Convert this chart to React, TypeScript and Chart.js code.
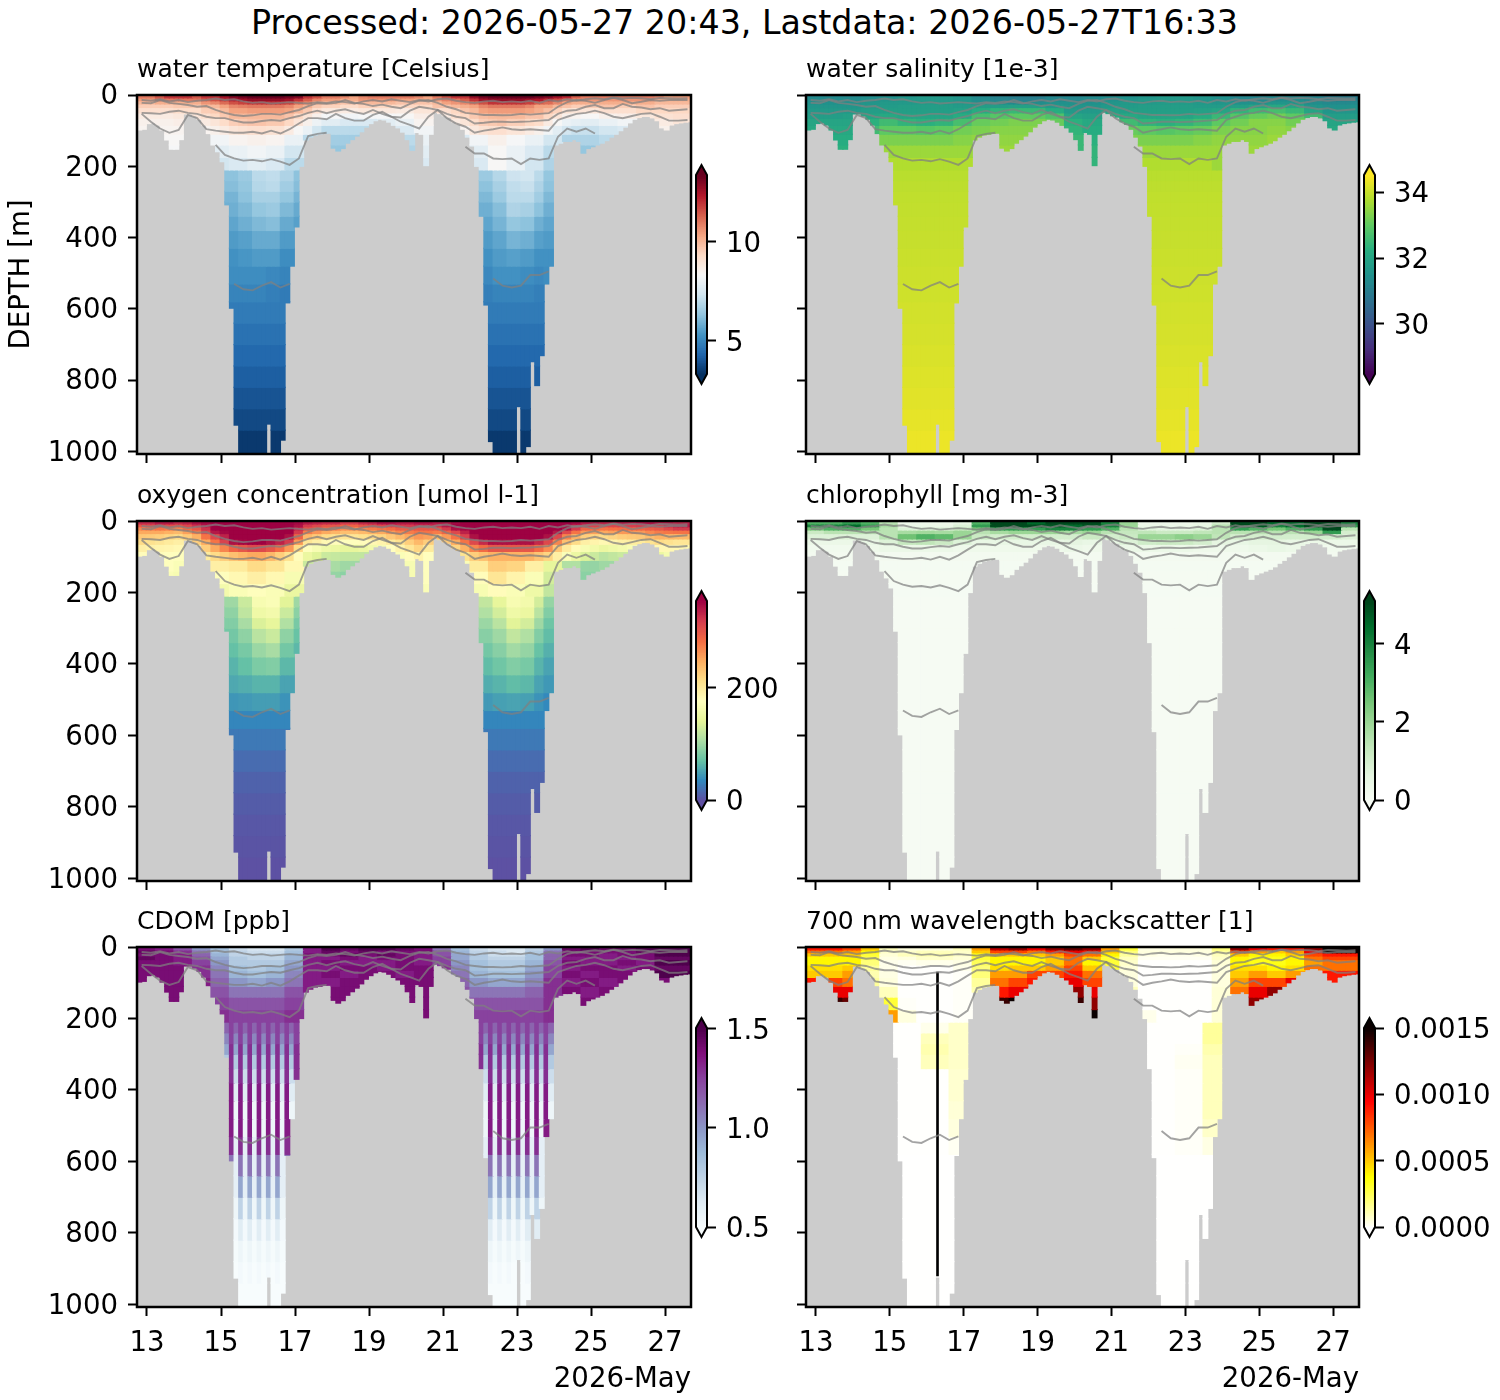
import React, { useEffect, useRef } from "react";
import { Chart, registerables } from "chart.js";

Chart.register(...registerables);

const FONT = '"DejaVu Sans"';
const SUPTITLE = "Processed: 2026-05-27 20:43, Lastdata: 2026-05-27T16:33";

const xTickDays = [13, 15, 17, 19, 21, 23, 25, 27];
const yTickDepths = [0, 200, 400, 600, 800, 1000];
const DAY_MIN = 12.73;
const DAY_MAX = 27.7;
const DEPTH_MAX = 1007;
const COL_STEP = 0.125;

// deepest sample of each 3-hour column, in metres
const bottomDepth = [
  98, 96, 80, 78, 84, 98, 126, 152, 152, 125, 53, 53, 59, 68, 84, 108, 140, 159, 187, 308,
  598, 926, 1007, 1007, 1007, 1007, 1007, 1007, 923, 1007, 1007, 968, 583, 480, 370, 200, 126, 118, 112, 110,
  107, 107, 149, 157, 150, 135, 125, 115, 103, 90, 80, 72, 68, 70, 76, 85, 92, 104, 125, 155,
  105, 110, 198, 110, 48, 52, 58, 62, 75, 82, 96, 118, 143, 200, 340, 589, 972, 1007, 1007, 1007,
  1007, 1007, 874, 1007, 986, 748, 815, 731, 530, 480, 140, 135, 130, 130, 125, 130, 163, 150, 145, 140,
  135, 128, 118, 110, 100, 90, 78, 68, 63, 60, 60, 64, 72, 92, 98, 84, 80, 78, 76, 75,
];

// grey density contours, one value every 6 hours
const contourA = [
  14, 16, 12, 18, 14, 20, 16, 14, 10, 14, 12, 18, 22, 20, 24, 22, 20, 22, 24, 20, 22, 18, 20, 24, 18, 14, 18, 12, 16, 20,
  14, 18, 12, 10, 16, 20, 22, 18, 16, 20, 18, 20, 16, 22, 14, 18, 12, 16, 12, 9, 12, 7, 10, 8, 9, 12, 8, 9, 10, 9,
];
const contourB = [
  22, 23, 14, 22, 25, 28, 33, 31, 42, 50, 56, 59, 57, 53, 53, 55, 48, 42, 31, 23, 25, 22, 14, 22, 25, 31, 27, 33, 37, 25,
  16, 14, 22, 33, 40, 50, 53, 56, 56, 57, 56, 53, 55, 53, 51, 33, 20, 14, 16, 22, 14, 8, 14, 23, 19, 14, 16, 14, 14, 14,
];
const contourC = [
  50, 51, 53, 47, 44, 50, 53, 61, 65, 65, 72, 77, 77, 73, 70, 72, 65, 59, 50, 44, 51, 44, 40, 48, 53, 42, 53, 61, 63, 44,
  33, 37, 42, 53, 61, 65, 80, 78, 75, 75, 76, 75, 74, 72, 70, 53, 44, 42, 33, 28, 37, 37, 25, 33, 35, 40, 37, 44, 42, 40,
];
const contourD = [
  53, 75, 94, 106, 98, 56, 65, 96, 100, 103, 106, 106, 103, 108, 100, 108, 96, 80, 65, 65, 68, 53, 65, 72, 72, 56, 47, 61, 75, 84,
  94, 61, 42, 65, 80, 89, 106, 100, 96, 91, 96, 98, 96, 98, 100, 70, 61, 53, 50, 44, 51, 61, 65, 59, 53, 51, 61, 72, 72, 70,
];
const contourE = [
  null, null, null, null, null, null, null, null, 140, 168, 178, 184, 182, 186, 180, 187, 196, 178, 115, 109, 106, null, null, null, null, null, null, null, null, null,
  null, null, null, null, null, 145, 164, 164, 178, 180, 178, 194, 178, 182, 178, 117, 94, 103, 94, 108, null, null, null, null, null, null, null, null, null, null,
];
const contourF = [
  null, null, null, null, null, null, null, null, null, null, 530, 545, 548, 535, 525, 540, 530, null, null, null, null, null, null, null, null, null, null, null, null, null,
  null, null, null, null, null, null, null, null, 515, 535, 540, 535, 505, 505, 495, null, null, null, null, null, null, null, null, null, null, null, null, null, null, null,
];

// upper layers: one row per depth band, one value every 6 or 12 hours
const upperEdges = [0, 8, 16, 25, 35, 50, 65, 85, 110, 140, 175, 210];
// below 210 m: slices across the two deep dives (12 or 6 values), or a single value
const deepEdges = [210, 240, 270, 300, 340, 380, 430, 480, 530, 580, 640, 700, 760, 820, 880, 940, 1007];

const tempUpper = [
  [11, 11, 11.5, 12, 12, 12, 11.5, 12, 12, 12.6, 13, 13.2, 13.4, 13.4, 13.4, 13.4, 13.2, 13, 12, 11.6, 11, 11, 10.8, 10.4, 10.8, 11, 11, 11, 11, 11, 10.8, 10.4, 11, 11.6, 12, 12, 12.8, 13.2, 13.4, 13.4, 13.4, 13.4, 13.4, 13.2, 13, 12.6, 12.2, 11.4, 11, 11, 11, 11, 11, 11, 11, 11, 10.8, 10.4, 10.5, 10.5],
  [10.5, 10.5, 11, 11, 11, 11, 11, 11.4, 11.6, 12, 12.4, 12.6, 12.8, 12.8, 12.8, 12.8, 12.6, 12, 11.4, 10.8, 10.5, 10.5, 10.2, 10.2, 10.6, 10.6, 10.6, 10.6, 10.4, 10.4, 10.2, 10.2, 10.6, 10.9, 11, 11.4, 12, 12.6, 12.8, 12.8, 12.8, 12.8, 12.6, 12.4, 12, 11.6, 11, 10.6, 10.6, 10.6, 10.6, 10.6, 10.6, 10.6, 10.6, 10.6, 10.2, 10.2, 10.2, 10.2],
  [10, 10, 10.2, 10.2, 10.2, 10.2, 10.2, 10.6, 10.8, 11.2, 11.6, 11.8, 12, 12, 12, 12, 11.8, 11.2, 10.8, 10.2, 10, 10, 9.8, 9.8, 10, 10, 10, 10, 9.8, 9.8, 9.8, 9.8, 10, 10.4, 10.6, 10.8, 11.2, 11.6, 12, 12, 12, 12, 11.8, 11.4, 11.2, 10.8, 10.4, 10.2, 10.2, 10.2, 10.2, 10.2, 10.2, 10.2, 10.2, 10.2, 10, 10, 10, 10],
  [9.6, 9.6, 9.6, 9.6, 9.7, 9.7, 9.7, 10, 10, 10.4, 10.8, 10.9, 11, 11, 11, 11, 10.8, 10.4, 10.1, 9.7, 9.5, 9.5, 9.3, 9.3, 9.5, 9.5, 9.4, 9.4, 9.4, 9.4, 9.4, 9.4, 9.8, 9.8, 10, 10.2, 10.4, 10.8, 11, 11, 11, 11, 10.8, 10.4, 10.4, 10, 9.8, 9.6, 9.6, 9.6, 9.8, 9.8, 9.6, 9.6, 9.8, 9.8, 9.6, 9.6, 9.6, 9.6],
  [9.2, 9.2, 9.2, 9.2, 9.3, 9.3, 9.3, 9.6, 9.7, 10, 10.4, 10.4, 10.5, 10.5, 10.5, 10.5, 10.4, 10, 9.7, 9.2, 8.9, 8.9, 8.8, 8.8, 8.9, 8.9, 8.9, 8.9, 8.8, 8.8, 9, 9, 9.2, 9.2, 9.4, 9.8, 10, 10.4, 10.5, 10.5, 10.5, 10.5, 10.4, 10.2, 9.9, 9.5, 9.1, 9, 9, 9, 9.2, 9.2, 9.2, 9.2, 9.4, 9.4, 9.4, 9.4, 9.4, 9.4],
  [8.8, 8.8, 8.8, 8.8, 8.9, 8.9, 9, 9.2, 9.4, 9.7, 10, 10, 10, 10, 10, 10, 9.8, 9.4, 9, 8.6, 8.3, 8.3, 8.2, 8.2, 8.3, 8.3, 8.3, 8.3, 8.4, 8.4, 8.7, 8.7, 8.6, 8.8, 9.2, 9.4, 9.7, 9.9, 10, 10, 10, 10, 9.8, 9.8, 9.4, 9, 8.6, 8.5, 8.4, 8.4, 8.6, 8.6, 8.7, 8.7, 8.9, 8.9, 9.1, 9.1, 9.2, 9.2],
  [8.6, 8.6, 8.6, 8.6, 8.7, 8.7, 8.7, 8.8, 9, 9.3, 9.6, 9.7, 9.8, 9.8, 9.7, 9.7, 9.4, 9, 8.6, 8.1, 7.8, 7.8, 7.6, 7.6, 7.6, 7.6, 7.8, 7.8, 8, 8, 8.5, 8.5, 8.2, 8.4, 8.8, 9, 9.3, 9.6, 9.7, 9.8, 9.6, 9.6, 9.4, 9.3, 8.8, 8.4, 8, 7.9, 7.8, 7.8, 8, 8, 8.2, 8.2, 8.4, 8.4, 8.8, 8.8, 9, 9],
  [8.5, 8.5, 8.5, 8.5, 8.5, 8.5, 8.4, 8.5, 8.6, 8.8, 9, 9.1, 9.2, 9.2, 9.1, 9.1, 8.8, 8.4, 8, 7.4, 7, 7, 7, 7, 7, 7, 7.2, 7.2, 7.6, 7.6, 8.2, 8.2, 7.8, 7.9, 8.2, 8.5, 8.9, 9.1, 9.2, 9.2, 9, 9, 8.8, 8.6, 8.2, 7.8, 7.4, 7.2, 7.2, 7.2, 7.4, 7.4, 7.6, 7.6, 7.8, 7.8, 8.6, 8.6, 8.6, 8.6],
  [8.4, 8.4, 8.4, 8.3, 8.2, 8.5, 8.6, 8.5, 8, 7, 6.6, 6.6, 6.8, 7, 7, 8, 7.4, 7.6, 8.2, 8.6, 8.3, 8, 7.4, 6.8, 6.8, 7, 7, 7, 8.4, 8.4],
  [8.3, 8.3, 8.3, 8.2, 7.8, 8, 8.2, 8, 7.4, 6.6, 6.4, 6.4, 6.6, 6.6, 6.8, 7.8, 7, 7.2, 7.8, 8.4, 8, 7.6, 7, 6.4, 6.4, 6.6, 6.6, 6.6, 8, 8],
  [8, 8, 8, 8, 7.4, 7.6, 7.8, 7.6, 7, 6.4, 6.4, 6.4, 6.4, 6.4, 6.6, 7.6, 6.8, 7, 7.6, 8.4, 8, 7.4, 6.8, 6.4, 6.4, 6.4, 6.4, 6.4, 8, 8],
];
const tempDeep = [
  [6.3, 6.5, 7, 7.1, 6.8, 6.3, 6.5, 6.9, 7.3, 7.4, 7, 6.4],
  [6.2, 6.4, 6.9, 7, 6.6, 6.2, 6.3, 6.7, 7.1, 7.2, 6.8, 6.3],
  [6, 6.3, 6.7, 6.7, 6.4, 6, 6.1, 6.5, 7, 7, 6.6, 6.1],
  [5.9, 6.1, 6.4, 6.5, 6.1, 5.8, 5.9, 6.2, 6.8, 6.7, 6.3, 5.9],
  [5.7, 5.9, 6.1, 6.2, 5.8, 5.6, 5.7, 6, 6.4, 6.3, 5.9, 5.7],
  [5.5, 5.6, 5.8, 5.8, 5.5, 5.4, 5.5, 5.7, 6, 5.9, 5.6, 5.5],
  [5.3, 5.4, 5.5, 5.5, 5.2, 5.3, 5.3, 5.5, 5.6, 5.5, 5.3, 5.3],
  [5.2, 5.2, 5.2, 5.1, 5, 5.1, 5.1, 5.3, 5.3, 5.2, 5.1, 5.2],
  [5, 5, 5, 4.9, 4.8, 4.9, 4.9, 5, 5, 5, 4.9, 5],
  [4.8], [4.6], [4.4], [4.2], [4], [3.8], [3.5],
];

const salUpper = [
  [31.3, 31.3, 31.3, 31.4, 31.5, 31.6, 31.7, 31.7, 31.6, 31.3, 31.1, 31, 31, 31.2, 31.2, 31.3, 31.4, 31.5, 31.6, 31.7, 31.7, 31.6, 31.5, 31.2, 31.2, 31.3, 31.3, 31.2, 31, 31],
  [31.4, 31.4, 31.4, 31.5, 31.6, 31.7, 31.7, 31.7, 31.6, 31.4, 31.2, 31.1, 31.1, 31.3, 31.3, 31.4, 31.5, 31.6, 31.7, 31.7, 31.7, 31.6, 31.5, 31.3, 31.3, 31.4, 31.4, 31.3, 31.1, 31.1],
  [31.5, 31.5, 31.5, 31.6, 31.7, 31.7, 31.75, 31.75, 31.7, 31.5, 31.4, 31.3, 31.4, 31.5, 31.5, 31.5, 31.6, 31.7, 31.7, 31.75, 31.75, 31.7, 31.6, 31.5, 31.5, 31.6, 31.6, 31.4, 31.3, 31.3],
  [31.6, 31.6, 31.6, 31.7, 31.75, 31.8, 31.8, 31.8, 31.75, 31.8, 31.8, 31.9, 31.9, 31.7, 31.6, 31.6, 31.7, 31.75, 31.8, 31.8, 31.8, 31.75, 31.75, 31.8, 32, 32.1, 32, 31.6, 31.5, 31.5],
  [31.7, 31.7, 31.7, 31.8, 31.85, 31.85, 31.85, 31.85, 31.9, 32.2, 32.4, 32.5, 32.5, 32.2, 31.7, 31.7, 31.9, 31.85, 31.85, 31.85, 31.85, 31.9, 32, 32.4, 32.6, 32.7, 32.5, 32, 31.6, 31.6],
  [31.8, 31.8, 31.9, 32, 32.1, 32, 32, 32, 32.2, 32.7, 32.9, 33, 33, 32.8, 32, 31.9, 32.2, 32.1, 32, 32, 32, 32.2, 32.5, 32.9, 33.1, 33.2, 33, 32.6, 31.8, 31.8],
  [32, 32, 32, 32.3, 32.6, 32.4, 32.3, 32.4, 32.7, 33.1, 33.2, 33.3, 33.3, 33.1, 32.3, 32.1, 32.6, 32.6, 32.4, 32.3, 32.4, 32.6, 33, 33.2, 33.4, 33.4, 33.2, 33, 32, 32],
  [32.1, 32.1, 32.1, 32.6, 33, 33, 32.9, 33, 33.2, 33.3, 33.4, 33.4, 33.4, 33.2, 32.4, 32.2, 33, 33.1, 33, 32.9, 33, 33.1, 33.3, 33.4, 33.4, 33.5, 33.4, 33.2, 32.1, 32.1],
  [32.2, 32.2, 32.2, 32.7, 33.3, 33.3, 33.3, 33.3, 33.4, 33.5, 33.5, 33.5, 33.5, 33.3, 32.5, 32.3, 33.2, 33.3, 33.3, 33.3, 33.3, 33.4, 33.5, 33.5, 33.5, 33.6, 33.5, 33.3, 32.2, 32.2],
  [32.3, 32.3, 32.3, 32.8, 33.6, 33.6, 33.6, 33.6, 33.6, 33.6, 33.6, 33.6, 33.6, 33.4, 32.5, 32.4, 33.4, 33.6, 33.6, 33.6, 33.6, 33.6, 33.6, 33.6, 33.6, 33.6, 33.6, 33.4, 32.3, 32.3],
  [32.3, 32.3, 32.3, 32.8, 33.8, 33.8, 33.8, 33.8, 33.8, 33.6, 33.6, 33.6, 33.6, 33.4, 32.5, 32.4, 33.6, 33.8, 33.8, 33.8, 33.8, 33.8, 33.6, 33.6, 33.6, 33.6, 33.6, 33.4, 32.3, 32.3],
];
const salDeep = [[33.88], [33.92], [33.94], [33.96], [33.98], [34], [34.03], [34.06], [34.08], [34.11], [34.14], [34.18], [34.22], [34.26], [34.3], [34.36]];

const oxyUpper = [
  [330, 330, 340, 340, 330, 335, 345, 350, 354, 354, 354, 354, 354, 354, 354, 354, 354, 350, 340, 335, 330, 330, 320, 320, 330, 335, 345, 345, 340, 340, 345, 345, 340, 340, 350, 354, 354, 354, 354, 354, 354, 354, 354, 354, 354, 354, 354, 350, 340, 340, 335, 335, 340, 340, 345, 345, 340, 340, 335, 335],
  [300, 305, 310, 305, 300, 310, 325, 340, 354, 354, 354, 354, 354, 354, 354, 354, 354, 345, 320, 310, 300, 300, 290, 290, 300, 305, 310, 315, 320, 320, 325, 325, 325, 340, 354, 354, 354, 354, 354, 354, 354, 354, 354, 354, 354, 354, 350, 330, 320, 315, 310, 312, 315, 318, 320, 320, 320, 330, 340, 340],
  [270, 275, 280, 275, 270, 285, 300, 325, 354, 354, 354, 354, 354, 354, 354, 354, 354, 330, 300, 290, 280, 275, 265, 265, 270, 275, 280, 285, 295, 295, 300, 300, 300, 320, 345, 350, 354, 354, 354, 354, 354, 354, 354, 354, 354, 354, 345, 320, 290, 285, 280, 282, 285, 288, 290, 295, 300, 310, 320, 320],
  [250, 250, 250, 245, 240, 255, 275, 310, 340, 350, 354, 354, 354, 354, 354, 354, 354, 320, 275, 262, 250, 242, 235, 235, 240, 245, 250, 260, 270, 275, 280, 280, 275, 290, 310, 335, 354, 354, 354, 354, 354, 354, 354, 354, 354, 340, 310, 280, 260, 255, 250, 255, 260, 260, 260, 268, 275, 278, 280, 280],
  [230, 228, 225, 220, 215, 228, 245, 280, 310, 335, 354, 354, 354, 354, 354, 354, 345, 290, 240, 228, 215, 210, 205, 205, 210, 215, 220, 230, 240, 250, 260, 255, 240, 258, 280, 315, 345, 354, 354, 354, 354, 354, 354, 354, 345, 310, 270, 245, 225, 220, 215, 220, 225, 228, 230, 238, 245, 242, 240, 240],
  [215, 210, 205, 200, 195, 208, 225, 250, 280, 315, 345, 350, 354, 354, 345, 335, 320, 260, 205, 195, 185, 180, 175, 175, 180, 185, 190, 200, 210, 225, 240, 225, 210, 228, 250, 280, 310, 330, 345, 345, 345, 345, 345, 330, 310, 270, 235, 215, 195, 190, 185, 190, 195, 198, 200, 208, 215, 210, 205, 205],
  [195, 192, 190, 188, 185, 192, 200, 225, 250, 270, 290, 300, 310, 310, 300, 285, 260, 215, 175, 165, 155, 150, 145, 145, 150, 158, 165, 178, 190, 205, 220, 200, 185, 200, 220, 245, 270, 285, 300, 300, 300, 300, 300, 285, 265, 230, 200, 182, 165, 158, 150, 155, 160, 165, 170, 178, 185, 185, 185, 185],
  [180, 180, 180, 178, 175, 180, 185, 200, 215, 225, 235, 243, 250, 250, 240, 225, 210, 180, 150, 138, 125, 122, 120, 120, 120, 128, 135, 152, 170, 180, 190, 178, 165, 178, 190, 208, 225, 235, 245, 245, 245, 245, 245, 232, 220, 195, 170, 152, 135, 125, 115, 120, 125, 128, 130, 140, 150, 162, 175, 175],
  [175, 175, 170, 175, 195, 200, 215, 205, 185, 125, 105, 100, 100, 115, 165, 175, 165, 170, 200, 225, 220, 195, 145, 110, 95, 100, 105, 120, 170, 170],
  [170, 170, 165, 170, 175, 185, 195, 185, 165, 105, 95, 90, 95, 100, 165, 175, 160, 160, 180, 205, 190, 170, 130, 95, 90, 90, 95, 100, 165, 165],
  [165, 165, 165, 165, 160, 170, 175, 170, 150, 100, 90, 90, 90, 95, 160, 170, 160, 150, 165, 180, 170, 155, 120, 90, 90, 90, 90, 90, 165, 165],
];
const oxyDeep = [
  [100, 125, 165, 170, 140, 100, 120, 145, 165, 160, 130, 95],
  [92, 118, 155, 160, 125, 90, 110, 130, 155, 150, 115, 85],
  [85, 105, 135, 145, 110, 80, 98, 115, 140, 130, 100, 75],
  [78, 92, 115, 125, 92, 72, 88, 100, 120, 110, 85, 68],
  [70, 80, 98, 105, 78, 65, 78, 88, 102, 95, 72, 60],
  [62, 70, 82, 85, 65, 58, 68, 76, 85, 80, 62, 52],
  [55, 58, 62, 62, 52, 48, 58, 62, 68, 65, 52, 45],
  [44, 46, 48, 48, 42, 38, 46, 50, 52, 50, 42, 36],
  [34], [26], [18], [12], [8], [5], [3], [1],
];

const chlUpper = [
  [3, 3, 3.5, 3, 1.5, 0.3, 0.3, 0.3, 0.5, 3, 5, 5, 4.5, 5, 5, 5, 4, 2, 0.3, 0.3, 0.3, 0.4, 1, 5, 5, 4.5, 4.5, 5, 5, 4],
  [4, 4, 4.5, 3.5, 1.8, 0.4, 0.4, 0.4, 0.8, 3.5, 5, 5, 5, 4.8, 4.5, 4.8, 4, 2, 0.4, 0.4, 0.4, 0.5, 1.5, 5, 4.8, 4, 4.5, 5, 5, 3.5],
  [2.5, 3, 3, 2.5, 1.5, 0.8, 0.8, 0.8, 1.2, 2.5, 3.5, 3.5, 3.5, 4, 4, 3.5, 3, 1.5, 0.7, 0.6, 0.6, 0.8, 1.5, 3.5, 3, 2.5, 3, 3.5, 5, 1.5],
  [1.2, 1.5, 1.5, 1.5, 1.5, 1.8, 1.9, 1.8, 2, 1.5, 1.8, 2, 2, 2, 1.8, 2, 1.5, 1.3, 1.4, 1.2, 1.2, 1.4, 1.5, 1.5, 1.5, 1.5, 1.5, 2, 3.5, 1],
  [0.8, 0.8, 0.8, 0.8, 1.5, 2.6, 3, 2.8, 2, 1.2, 1, 1, 1, 1, 1, 1.2, 1, 1.2, 2, 2, 2.2, 2, 1.4, 1, 1, 1, 1, 1, 1, 0.8],
  [0.4, 0.4, 0.4, 0.5, 0.8, 1.3, 1.4, 1.2, 0.8, 0.5, 0.5, 0.5, 0.5, 0.5, 0.6, 0.5, 0.5, 0.8, 1.1, 1.2, 1.2, 1, 0.6, 0.5, 0.6, 0.6, 0.5, 0.4, 0.4, 0.4],
  [0.2, 0.2, 0.2, 0.3, 0.4, 0.4, 0.4, 0.4, 0.3, 0.3, 0.3, 0.3, 0.3, 0.3, 0.4, 0.3, 0.3, 0.4, 0.4, 0.4, 0.4, 0.3, 0.3, 0.3, 0.4, 0.5, 0.4, 0.3, 0.2, 0.2],
  [0.15], [0.1], [0.08], [0.06],
];
const chlDeep = [[0.05], [0.05], [0.05], [0.05], [0.05], [0.05], [0.05], [0.05], [0.05], [0.05], [0.05], [0.05], [0.05], [0.05], [0.05], [0.05]];

const cdomUpper = [
  [1.4, 1.35, 1.2, 1, 0.85, 0.7, 0.65, 0.65, 0.8, 1.35, 1.5, 1.45, 1.5, 1.5, 1.45, 1.4, 1.1, 0.85, 0.7, 0.65, 0.65, 0.75, 1, 1.45, 1.5, 1.45, 1.45, 1.5, 1.5, 1.5],
  [1.45, 1.4, 1.3, 1.1, 0.85, 0.75, 0.7, 0.7, 0.85, 1.35, 1.45, 1.4, 1.45, 1.4, 1.4, 1.4, 1.2, 0.9, 0.75, 0.7, 0.65, 0.8, 1.1, 1.4, 1.4, 1.4, 1.4, 1.45, 1.5, 1.5],
  [1.4, 1.4, 1.35, 1.15, 0.9, 0.75, 0.75, 0.75, 0.9, 1.4, 1.4, 1.45, 1.4, 1.45, 1.4, 1.35, 1.2, 0.95, 0.8, 0.7, 0.7, 0.85, 1.15, 1.4, 1.4, 1.35, 1.4, 1.4, 1.5, 1.5],
  [1.45, 1.4, 1.35, 1.2, 0.95, 0.8, 0.75, 0.75, 0.9, 1.35, 1.35, 1.4, 1.35, 1.4, 1.4, 1.35, 1.25, 0.95, 0.8, 0.75, 0.75, 0.85, 1.15, 1.35, 1.35, 1.35, 1.35, 1.4, 1.45, 1.45],
  [1.4, 1.4, 1.35, 1.25, 1, 0.8, 0.8, 0.8, 0.95, 1.35, 1.4, 1.35, 1.35, 1.35, 1.4, 1.35, 1.25, 1, 0.85, 0.8, 0.8, 0.9, 1.2, 1.4, 1.35, 1.35, 1.4, 1.35, 1.5, 1.5],
  [1.4, 1.4, 1.4, 1.3, 1.05, 0.85, 0.8, 0.85, 1, 1.35, 1.35, 1.4, 1.4, 1.35, 1.4, 1.4, 1.3, 1.05, 0.85, 0.8, 0.8, 0.95, 1.25, 1.35, 1.4, 1.4, 1.35, 1.4, 1.45, 1.45],
  [1.4, 1.4, 1.4, 1.3, 1.1, 0.9, 0.85, 0.9, 1.05, 1.35, 1.4, 1.35, 1.4, 1.4, 1.35, 1.4, 1.3, 1.1, 0.9, 0.85, 0.85, 1, 1.25, 1.4, 1.35, 1.4, 1.4, 1.35, 1.5, 1.5],
  [1.4, 1.4, 1.4, 1.35, 1.15, 1, 0.95, 1, 1.1, 1.35, 1.35, 1.4, 1.4, 1.35, 1.4, 1.4, 1.35, 1.15, 1, 0.95, 0.95, 1.05, 1.3, 1.35, 1.4, 1.35, 1.4, 1.4, 1.4, 1.4],
  [1.4, 1.4, 1.4, 1.35, 1.2, 1.1, 1.1, 1.1, 1.2, 1.35, 1.4, 1.4, 1.35, 1.4, 1.4, 1.4, 1.35, 1.2, 1.1, 1.1, 1.1, 1.15, 1.3, 1.4, 1.35, 1.4, 1.4, 1.4, 1.4, 1.4],
  [1.4, 1.4, 1.4, 1.35, 1.25, 1.2, 1.2, 1.2, 1.25, 1.35, 1.4, 1.4, 1.4, 1.35, 1.4, 1.4, 1.35, 1.25, 1.2, 1.2, 1.2, 1.2, 1.3, 1.4, 1.4, 1.4, 1.4, 1.4, 1.4, 1.4],
  [1.4, 1.4, 1.4, 1.35, 1.3, 1.25, 1.25, 1.25, 1.3, 1.35, 1.4, 1.4, 1.4, 1.4, 1.4, 1.4, 1.35, 1.3, 1.25, 1.25, 1.25, 1.25, 1.3, 1.4, 1.4, 1.4, 1.4, 1.4, 1.4, 1.4],
];
// the casts alternate, so the CDOM profiles come in a dark and a pale set
const cdomDeep = [[1.25], [1.25], [1.3], [1.3], [1.3], [1.35], [1.35], [1.35], [1.3], [1.1], [0.95], [0.75], [0.62], [0.55], [0.52], [0.5]];
const cdomDeepPale = [[1.15], [1.05], [0.95], [0.8], [0.7], [0.62], [0.55], [0.55], [0.6], [0.6], [0.6], [0.55], [0.52], [0.51], [0.5], [0.5]];

// backscatter in units of 1e-4
const bbpUpper = [
  [9, 9, 8, 5, 1, 0.5, 0.5, 0.5, 1, 6, 11, 12, 10, 12, 13, 12, 6, 3, 0.4, 0.4, 0.5, 0.5, 2, 12, 10, 9, 9, 12, 15, 15],
  [7, 7, 6, 4, 0.8, 0.8, 1, 1, 0.8, 5, 8, 8, 7, 9, 10, 9, 5, 2, 0.5, 0.5, 0.5, 0.5, 1.5, 8, 6, 5, 6, 10, 15, 15],
  [5, 5, 5, 3, 0.6, 1, 1.2, 1.2, 0.8, 3.5, 5, 5, 5, 6, 8, 7, 4, 1.5, 0.4, 0.3, 0.3, 0.4, 1, 5, 4, 4, 5, 8, 9, 9],
  [4, 4, 4, 2.5, 0.4, 0.5, 0.8, 0.8, 0.6, 3, 4, 4, 4, 5, 7, 5, 3, 1, 0.2, 0.2, 0.2, 0.2, 0.8, 4, 3.5, 3.5, 4, 7, 8, 8],
  [4, 4, 4, 2, 0.3, 0.2, 0.3, 0.3, 0.4, 2.5, 4, 4, 4, 5, 7, 4, 3, 0.8, 0.03, 0.03, 0.03, 0.03, 0.6, 4, 3.5, 3.5, 4, 6, 7, 7],
  [4.5, 4.5, 5, 1.5, 0.3, 0.03, 0.03, 0.03, 0.3, 2, 4.5, 5, 5, 6, 8, 5, 3, 0.6, 0.03, 0.03, 0.03, 0.03, 0.5, 4.5, 4.5, 4, 4.5, 7, 7, 7],
  [5, 5, 6, 1.2, 0.4, 0.03, 0.03, 0.03, 0.1, 2, 6, 6, 8, 8, 9, 7, 4, 0.5, 0.03, 0.03, 0.03, 0.03, 0.5, 5, 6, 5, 6, 9, 9, 9],
  [9, 8, 7, 1.5, 0.5, 0.03, 0.03, 0.03, 0.1, 1.5, 7, 8, 9, 10, 10, 8, 5, 0.5, 0.03, 0.03, 0.03, 0.03, 0.5, 6, 8, 8, 10, 14, 9, 9],
  [10, 10, 10, 2, 1, 0.03, 0.03, 0.03, 0.1, 1.2, 9, 10, 12, 12, 12, 10, 7, 1, 0.03, 0.03, 0.03, 0.03, 0.6, 7, 10, 12, 15, 15, 9, 9],
  [13, 14, 13, 3, 3, 0.1, 0.03, 0.03, 0.1, 1, 14, 15, 13, 13, 14, 12, 9, 2, 0.03, 0.03, 0.03, 0.03, 0.6, 8, 12, 15, 15, 15, 9, 9],
  [15, 15, 15, 5, 6, 0.5, 0.03, 0.03, 0.1, 1, 15, 15, 15, 15, 15, 15, 12, 5, 0.3, 0.03, 0.03, 0.03, 0.6, 10, 14, 15, 15, 15, 9, 9],
];
const bbpDeep = [
  [0.03, 0.3, 0.8, 0.03, 0.03, 1.5],
  [0.03, 1, 0.8, 0.03, 0.03, 1.5],
  [0.03, 1.2, 0.8, 0.03, 0.1, 1.2],
  [0.03, 1, 0.8, 0.03, 0.2, 1],
  [0.03, 0.03, 0.7, 0.03, 0.1, 1],
  [0.03, 0.03, 0.7, 0.03, 0.1, 1],
  [0.03, 0.03, 0.6, 0.03, 0.1, 1],
  [0.03, 0.03, 0.5, 0.03, 0.1, 0.8],
  [0.03, 0.03, 0.2, 0.03, 0.1, 0.4],
  [0.02], [0.02], [0.02], [0.02], [0.02], [0.02], [0.02],
];
// one bad backscatter cast that saturates the colour scale
const bbpBadCastDay = 16.29;
const bbpBadCastDepth = [70, 920];

type Stop = [number, string];
const even = (list: string[]): Stop[] => list.map((c, i) => [i / (list.length - 1), c]);

const RdBuR = even(["#053061", "#2166ac", "#4393c3", "#92c5de", "#d1e5f0", "#f7f7f7", "#fddbc7", "#f4a582", "#d6604d", "#b2182b", "#67001f"]);
const Viridis = even(["#440154", "#472d7b", "#3b528b", "#2c728e", "#21918c", "#28ae80", "#5ec962", "#addc30", "#fde725"]);
const SpectralR = even(["#5e4fa2", "#3288bd", "#66c2a5", "#abdda4", "#e6f598", "#ffffbf", "#fee08b", "#fdae61", "#f46d43", "#d53e4f", "#9e0142"]);
const Greens = even(["#f7fcf5", "#e5f5e0", "#c7e9c0", "#a1d99b", "#74c476", "#41ab5d", "#238b45", "#006d2c", "#00441b"]);
const BuPu = even(["#f7fcfd", "#e0ecf4", "#bfd3e6", "#9ebcda", "#8c96c6", "#8c6bb1", "#88419d", "#810f7c", "#4d004b"]);
const HotR: Stop[] = [[0, "#ffffff"], [0.254, "#ffff00"], [0.635, "#ff0000"], [1, "#0a0000"]];

const rgb = (h: string) => [1, 3, 5].map((k) => parseInt(h.slice(k, k + 2), 16));

function cmapColor(stops: Stop[], pos: number) {
  const p = Math.min(1, Math.max(0, pos));
  let k = 0;
  while (k < stops.length - 2 && p > stops[k + 1][0]) k++;
  const [p0, c0] = stops[k];
  const [p1, c1] = stops[k + 1];
  const f = (p - p0) / (p1 - p0);
  const a = rgb(c0);
  const b = rgb(c1);
  return `rgb(${a.map((v, i) => Math.round(v + (b[i] - v) * f)).join(",")})`;
}

const panels = [
  { title: "water temperature [Celsius]", upper: tempUpper, deep: tempDeep, cmap: RdBuR, min: 3.33, max: 13.38, ticks: [5, 10], digits: 0, unit: 1 },
  { title: "water salinity [1e-3]", upper: salUpper, deep: salDeep, cmap: Viridis, min: 28.48, max: 34.52, ticks: [30, 32, 34], digits: 0, unit: 1 },
  { title: "oxygen concentration [umol l-1]", upper: oxyUpper, deep: oxyDeep, cmap: SpectralR, min: 0, max: 354, ticks: [0, 200], digits: 0, unit: 1 },
  { title: "chlorophyll [mg m-3]", upper: chlUpper, deep: chlDeep, cmap: Greens, min: 0, max: 5.1, ticks: [0, 2, 4], digits: 0, unit: 1 },
  { title: "CDOM [ppb]", upper: cdomUpper, deep: cdomDeep, deepAlt: cdomDeepPale, cmap: BuPu, min: 0.5, max: 1.505, ticks: [0.5, 1, 1.5], digits: 1, unit: 1 },
  { title: "700 nm wavelength backscatter [1]", upper: bbpUpper, deep: bbpDeep, cmap: HotR, min: 0, max: 0.0015, ticks: [0, 0.0005, 0.001, 0.0015], digits: 4, unit: 1e-4, badCast: true },
];

const columnDay = (i: number) => DAY_MIN + COL_STEP * (i + 0.5);

function readUpper(row: number[], i: number) {
  if (row.length === 1) return row[0];
  return row.length === 60 ? row[Math.floor(i / 2)] : row[Math.floor(i / 4)];
}

function deepSlot(i: number) {
  const ends = [21, 24, 27, 30, 33, 50, 76, 79, 82, 85, 87];
  const k = ends.findIndex((e) => i <= e);
  return k < 0 ? 11 : k;
}

function readDeep(row: number[], i: number) {
  if (row.length === 1) return row[0];
  return row.length === 6 ? row[deepSlot(i) >> 1] : row[deepSlot(i)];
}

function bandDataset(p: any, top: number, bottom: number, read: (i: number) => number) {
  const data: any[] = [];
  const colors: string[] = [];
  bottomDepth.forEach((floor, i) => {
    if (top >= floor) return;
    data.push({ x: columnDay(i), y: [top, Math.min(bottom, floor)] });
    colors.push(cmapColor(p.cmap, (read(i) * p.unit - p.min) / (p.max - p.min)));
  });
  return {
    type: "bar",
    order: 2,
    data,
    backgroundColor: colors,
    borderWidth: 0,
    barThickness: 4.7,
    grouped: false,
    inflateAmount: 0.6,
  };
}

function panelDatasets(p: any) {
  const contours = [contourA, contourB, contourC, contourD, contourE, contourF].map((line) => ({
    type: "line",
    order: 1,
    data: line.map((y, n) => ({ x: DAY_MIN + 0.25 * (n + 0.5), y })),
    borderColor: "rgba(128,128,128,0.72)",
    borderWidth: 1.9,
    pointRadius: 0,
    tension: 0,
    spanGaps: false,
  }));
  const bars: any[] = [];
  if (p.badCast) {
    bars.push({
      type: "bar",
      order: 1,
      data: [{ x: bbpBadCastDay, y: bbpBadCastDepth }],
      backgroundColor: "#000000",
      borderWidth: 0,
      barThickness: 2,
      grouped: false,
    });
  }
  p.upper.forEach((row: number[], k: number) => {
    bars.push(bandDataset(p, upperEdges[k], upperEdges[k + 1], (i) => readUpper(row, i)));
  });
  p.deep.forEach((row: number[], k: number) => {
    bars.push(
      bandDataset(p, deepEdges[k], deepEdges[k + 1], (i) => readDeep(p.deepAlt && i % 2 === 1 ? p.deepAlt[k] : row, i))
    );
  });
  return [...contours, ...bars];
}

const panelFrame = {
  id: "panelFrame",
  beforeDatasetsDraw(chart: any) {
    const { ctx, chartArea: a } = chart;
    ctx.save();
    ctx.fillStyle = "#cccccc";
    ctx.fillRect(a.left, a.top, a.right - a.left, a.bottom - a.top);
    ctx.restore();
  },
  afterDraw(chart: any) {
    const { ctx, chartArea: a } = chart;
    ctx.save();
    ctx.strokeStyle = "#000000";
    ctx.lineWidth = 2.5;
    ctx.strokeRect(a.left, a.top, a.right - a.left, a.bottom - a.top);
    ctx.restore();
  },
};

const TITLE_SIZE = 25;
const TICK_SIZE = 27.6;
const HEAD = 60;
const Y_AXIS_W = 137;

// labels may hang over the ends of an axis without shrinking the plot
const noLabelPadding = (s: any) => {
  s.paddingTop = 0;
  s.paddingBottom = 0;
  s.paddingLeft = 0;
  s.paddingRight = 0;
};

function Panel({ index }: { index: number }) {
  const ref = useRef<HTMLCanvasElement | null>(null);
  const col = index % 2;
  const row = Math.floor(index / 2);
  const left = [137, 806][col];
  const top = [95, 521, 947][row];
  const w = [554, 553][col];
  const h = [359, 360, 360][row];
  const foot = row === 2 ? 90 : 14;
  const p = panels[index];

  useEffect(() => {
    const ctx = ref.current?.getContext("2d");
    if (!ctx) return;
    const titleBottom = 9.4;
    const chart = new Chart(ctx, {
      type: "bar",
      data: { datasets: panelDatasets(p) as any },
      plugins: [panelFrame],
      options: {
        animation: false,
        responsive: false,
        maintainAspectRatio: false,
        layout: { padding: { top: HEAD - TITLE_SIZE * 1.2 - titleBottom, right: 4, left: 0, bottom: 0 } },
        plugins: {
          legend: { display: false },
          tooltip: { enabled: false },
          title: {
            display: true,
            text: p.title,
            align: "start",
            fullSize: false,
            color: "#000",
            font: { family: FONT, size: TITLE_SIZE, weight: "normal" },
            padding: { top: 0, bottom: titleBottom },
          },
        },
        scales: {
          x: {
            type: "linear",
            min: DAY_MIN,
            max: DAY_MAX,
            offset: false,
            afterBuildTicks: (s: any) => {
              s.ticks = xTickDays.map((value) => ({ value }));
            },
            afterFit: (s: any) => {
              s.height = foot;
              noLabelPadding(s);
            },
            border: { display: false },
            grid: { offset: false, drawOnChartArea: false, drawTicks: true, tickLength: 9, tickWidth: 2, tickColor: "#000" },
            ticks: {
              display: row === 2,
              autoSkip: false,
              maxRotation: 0,
              minRotation: 0,
              color: "#000",
              padding: 11,
              font: { family: FONT, size: TICK_SIZE },
              callback: (v: any) => String(v),
            },
            title: {
              display: row === 2,
              text: "2026-May",
              align: "end",
              color: "#000",
              font: { family: FONT, size: TICK_SIZE, weight: "normal" },
              padding: { top: 0, bottom: 1 },
            },
          },
          y: {
            type: "linear",
            reverse: true,
            min: 0,
            max: DEPTH_MAX,
            afterBuildTicks: (s: any) => {
              s.ticks = yTickDepths.map((value) => ({ value }));
            },
            afterFit: (s: any) => {
              s.width = Y_AXIS_W;
              noLabelPadding(s);
            },
            border: { display: false },
            grid: { drawOnChartArea: false, drawTicks: true, tickLength: 9, tickWidth: 2, tickColor: "#000" },
            ticks: {
              display: col === 0,
              autoSkip: false,
              color: "#000",
              padding: 10,
              // a blank first line nudges the label down onto its tick
              font: { family: FONT, size: TICK_SIZE, lineHeight: 0.15 },
              callback: (v: any) => ["", String(v)],
            },
            title: {
              display: index === 0,
              text: "DEPTH [m]",
              color: "#000",
              font: { family: FONT, size: TICK_SIZE, weight: "normal" },
              padding: { top: 5, bottom: 0 },
            },
          },
        },
      } as any,
    });
    return () => chart.destroy();
  }, []);

  return (
    <canvas
      ref={ref}
      width={Y_AXIS_W + w + 4}
      height={HEAD + h + foot}
      style={{ position: "absolute", left: left - Y_AXIS_W, top: top - HEAD, width: Y_AXIS_W + w + 4, height: HEAD + h + foot }}
    />
  );
}

const colorbarFrame = {
  id: "colorbarFrame",
  afterDraw(chart: any, _args: any, opts: any) {
    const { ctx, chartArea: a } = chart;
    const tip = 10;
    const mid = (a.left + a.right) / 2;
    ctx.save();
    ctx.fillStyle = opts.over;
    ctx.beginPath();
    ctx.moveTo(a.left, a.top);
    ctx.lineTo(mid, a.top - tip);
    ctx.lineTo(a.right, a.top);
    ctx.closePath();
    ctx.fill();
    ctx.fillStyle = opts.under;
    ctx.beginPath();
    ctx.moveTo(a.left, a.bottom);
    ctx.lineTo(mid, a.bottom + tip);
    ctx.lineTo(a.right, a.bottom);
    ctx.closePath();
    ctx.fill();
    ctx.strokeStyle = "#000";
    ctx.lineWidth = 2;
    ctx.beginPath();
    ctx.moveTo(a.left, a.top);
    ctx.lineTo(mid, a.top - tip);
    ctx.lineTo(a.right, a.top);
    ctx.lineTo(a.right, a.bottom);
    ctx.lineTo(mid, a.bottom + tip);
    ctx.lineTo(a.left, a.bottom);
    ctx.closePath();
    ctx.stroke();
    ctx.restore();
  },
};

function Colorbar({ index }: { index: number }) {
  const ref = useRef<HTMLCanvasElement | null>(null);
  const col = index % 2;
  const row = Math.floor(index / 2);
  const left = [696, 1364][col];
  const top = [175, 601, 1028][row];
  const barW = 11;
  const axisW = 118;
  const h = 199;
  const pad = 20;
  const p = panels[index];

  useEffect(() => {
    const ctx = ref.current?.getContext("2d");
    if (!ctx) return;
    const levels = Array.from({ length: 120 }, (_, j) => j);
    const d = (p.max - p.min) / levels.length;
    const chart = new Chart(ctx, {
      type: "bar",
      data: {
        datasets: [
          {
            data: levels.map((j) => ({ x: 0.5, y: [p.min + j * d, p.min + (j + 1) * d] })),
            backgroundColor: levels.map((j) => cmapColor(p.cmap, (j + 0.5) / levels.length)),
            borderWidth: 0,
            barThickness: barW,
            inflateAmount: 0.6,
            grouped: false,
          },
        ] as any,
      },
      plugins: [colorbarFrame],
      options: {
        animation: false,
        responsive: false,
        maintainAspectRatio: false,
        layout: { padding: { top: pad, bottom: pad, left: 6, right: 0 } },
        plugins: {
          legend: { display: false },
          tooltip: { enabled: false },
          colorbarFrame: { under: cmapColor(p.cmap, 0), over: cmapColor(p.cmap, 1) },
        },
        scales: {
          x: { type: "linear", display: false, min: 0, max: 1, offset: false },
          y: {
            type: "linear",
            position: "right",
            min: p.min,
            max: p.max,
            afterBuildTicks: (s: any) => {
              s.ticks = p.ticks.map((value: number) => ({ value }));
            },
            afterFit: (s: any) => {
              s.width = axisW;
              noLabelPadding(s);
            },
            border: { display: false },
            grid: { drawOnChartArea: false, drawTicks: true, tickLength: 9, tickWidth: 2, tickColor: "#000" },
            ticks: {
              autoSkip: false,
              color: "#000",
              padding: 10,
              font: { family: FONT, size: TICK_SIZE, lineHeight: 0.2 },
              callback: (v: any) => ["", Number(v).toFixed(p.digits)],
            },
          },
        },
      } as any,
    });
    return () => chart.destroy();
  }, []);

  return (
    <canvas
      ref={ref}
      width={6 + barW + axisW}
      height={h + 2 * pad}
      style={{ position: "absolute", left: left - 6, top: top - pad, width: 6 + barW + axisW, height: h + 2 * pad }}
    />
  );
}

export default function App() {
  return (
    <div style={{ position: "absolute", left: 0, top: 0, width: 1500, height: 1400, background: "#fff", overflow: "hidden" }}>
      <div
        style={{
          position: "absolute",
          left: 0,
          top: 3,
          width: 1489,
          textAlign: "center",
          fontFamily: FONT,
          fontSize: 33.3,
          lineHeight: "40px",
          color: "#000",
          whiteSpace: "nowrap",
        }}
      >
        {SUPTITLE}
      </div>
      {panels.map((_, i) => (
        <Panel key={i} index={i} />
      ))}
      {panels.map((_, i) => (
        <Colorbar key={i} index={i} />
      ))}
    </div>
  );
}
